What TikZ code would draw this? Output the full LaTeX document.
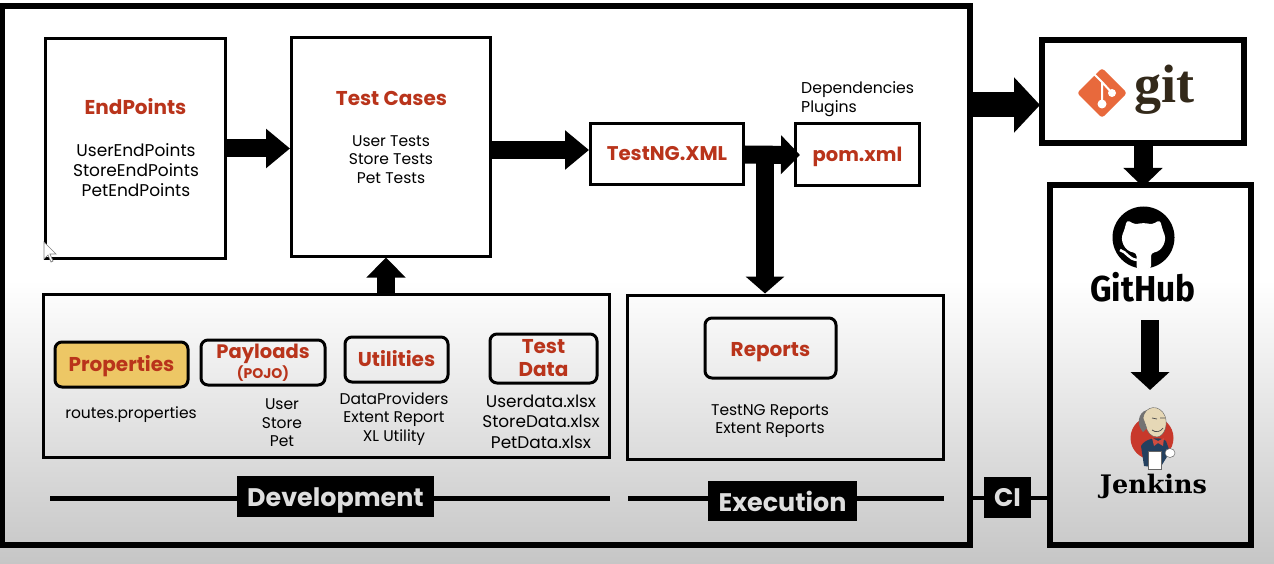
\documentclass[tikz,border=0pt]{standalone}
\usepackage{fontspec}
\setmainfont{Poppins}
\newfontfamily\gitfont{Liberation Serif}
\newfontfamily\jenkinsfont{DejaVu Serif}
\newfontfamily\hubfont{Fira Sans}
\usetikzlibrary{arrows.meta,positioning}
\definecolor{titlered}{HTML}{B9341B}
\definecolor{propgold}{HTML}{EDC765}
\definecolor{gitorange}{HTML}{E8693C}
\definecolor{gitbrown}{HTML}{33291A}
\definecolor{bandtext}{HTML}{DEDEDE}
\definecolor{bottomgray}{HTML}{C6C6C6}
\definecolor{jenkinsred}{HTML}{C8382B}
\definecolor{jenkinsskin}{HTML}{E6D8B6}
\definecolor{jenkinssuit}{HTML}{23405F}
\tikzset{
    bigbox/.style={draw,line width=3pt,minimum width=#1,inner sep=0pt},
    inbox/.style={draw,line width=3pt,rounded corners=7pt,minimum width=#1,align=center,inner sep=0pt,text=titlered,font=\fontsize{20}{23}\selectfont\bfseries},
    heading/.style={text=titlered,font=\fontsize{20}{23}\selectfont\bfseries,inner sep=0pt},
    subtext/.style={align=center,inner sep=0pt,font=\fontsize{15.5}{18.5}\selectfont},
    band/.style={fill=black,text=bandtext,inner sep=0pt,font=\fontsize{25.4}{30}\selectfont\bfseries},
    fatarrow/.style={line width=18pt,-{Triangle[length=#1,width=38pt]}},
    fatarrow/.default=20pt,
}
\begin{document}
\begin{tikzpicture}[x=1pt,y=-1pt]
    \useasboundingbox (0,0) rectangle (1274,564);
    \fill[white] (0,0) rectangle (1274,281);
    \shade[top color=white,bottom color=bottomgray] (0,280) rectangle (1274,564);
    \draw[line width=6pt] (2,6) rectangle (970,545);

    \node[bigbox=180pt,minimum height=219pt] (endpoints) at (135.5,148.5) {};
    \node[heading] (endpointstitle) at (135.5,107) {EndPoints};
    \node[subtext,font=\fontsize{17}{20}\selectfont] (endpointslist) at (136,170) {UserEndPoints\\StoreEndPoints\\PetEndPoints};

    \node[bigbox=199pt,minimum height=218pt] (testcases) at (391,147) {};
    \node[heading] (testcasestitle) at (391.5,98.5) {Test Cases};
    \node[subtext] (testcaseslist) at (391,159.5) {User Tests\\Store Tests\\Pet Tests};

    \node[bigbox=153pt,minimum height=61pt,text=titlered,font=\fontsize{19.8}{23}\selectfont\bfseries,text height=14.5pt,text depth=2pt] (testng) at (667,154.5) {TestNG.XML};
    \node[bigbox=124pt,minimum height=62pt,text=titlered,font=\fontsize{19.5}{23}\selectfont\bfseries,text height=17pt,text depth=4.5pt] (pom) at (857.5,155) {pom.xml};
    \node[subtext,align=left,anchor=west,font=\fontsize{15.7}{18.5}\selectfont] (pomnote) at (801,99) {Dependencies\\Plugins};

    \node[bigbox=566pt,minimum height=163pt] (devarea) at (326.5,375.5) {};
    \node[inbox=133pt,minimum height=45pt,fill=propgold,text height=19pt,text depth=4.5pt] (properties) at (121.5,364.5) {Properties};
    \node[subtext] (propertieslist) at (131,415) {routes.properties};
    \node[inbox=124pt,minimum height=45pt,font=\fontsize{19.5}{17}\selectfont\bfseries] (payloads) at (263,362.5) {Payloads\\[1pt]{\fontsize{14}{14}\selectfont (POJO)}};
    \node[subtext] (payloadslist) at (282,423) {User\\Store\\Pet};
    \node[inbox=103pt,minimum height=45pt,text height=15pt,text depth=2pt] (utilities) at (396.5,359.5) {Utilities};
    \node[subtext] (utilitieslist) at (394,419) {DataProviders\\Extent Report\\XL Utility};
    \node[inbox=107pt,minimum height=49pt] (testdata) at (543.5,358.5) {Test\\Data};
    \node[subtext,font=\fontsize{16.9}{20.5}\selectfont] (testdatalist) at (541,421.5) {Userdata.xlsx\\StoreData.xlsx\\PetData.xlsx};

    \node[bigbox=316pt,minimum height=164pt] (execarea) at (785.5,377) {};
    \node[inbox=131pt,minimum height=60pt,text height=16pt,text depth=0pt] (reports) at (770.5,348) {Reports};
    \node[subtext] (reportslist) at (770,421) {TestNG Reports\\Extent Reports};

    \coordinate (devleft) at (50,498);
    \coordinate (devright) at (610,498);
    \coordinate (execleft) at (628,498);
    \coordinate (execright) at (944,498);
    \coordinate (frameright) at (972,498);
    \coordinate (hubleft) at (1048,498);
    \draw[line width=5pt] (devleft) -- (devright);
    \draw[line width=5pt] (execleft) -- (execright);
    \draw[line width=4pt] (frameright) -- (hubleft);
    \node[band,minimum width=197pt,minimum height=41pt,text height=24pt,text depth=5pt] (development) at (335.5,496.5) {Development};
    \node[band,minimum width=149pt,minimum height=40pt] (execution) at (782.5,501) {Execution};
    \node[band,minimum width=47pt,minimum height=41pt] (ci) at (1007.5,497.5) {CI};

    \node[draw,line width=6pt,minimum width=202pt,minimum height=103pt,inner sep=0pt] (gitbox) at (1143,91.5) {};
    \node[draw,line width=6pt,minimum width=201pt,minimum height=360pt,inner sep=0pt] (hubbox) at (1150.5,365) {};

    \fill[gitorange,rounded corners=3pt] (1102,68) -- (1127,93) -- (1102,118) -- (1077,93) -- cycle;
    \draw[white,line width=2pt] (1094,74) -- (1102,82) -- (1102,104) (1102,82) -- (1112,93);
    \fill[white] (1102,104) circle (4.5pt) (1112,93) circle (4pt);
    \node[text=gitbrown,inner sep=0pt,font=\gitfont\fontsize{54}{54}\selectfont\bfseries] (gitlabel) at (1164,90) {git};

    \fill[black] (1143.5,237.5) circle (31pt);
    \fill[white,rounded corners=3pt] (1127,220) -- (1135,224.5) .. controls (1141,223) and (1146,223) .. (1152,224.5) -- (1160,220) -- (1163,231)
        .. controls (1167,240) and (1163,251) .. (1151,253) -- (1151,269) -- (1136.5,269) -- (1136.5,253)
        .. controls (1124,251) and (1120,240) .. (1124,231) -- cycle;
    \draw[white,line width=2.5pt] (1120,250) .. controls (1127,252) and (1128,259) .. (1137,260);
    \node[inner sep=0pt,font=\hubfont\fontsize{36}{36}\selectfont\bfseries] (hublabel) at (1143,287) {\scalebox{.93}[1]{GitHub}};

    \fill[jenkinsred] (1152,438) circle (21.5pt);
    \fill[jenkinssuit] (1144,466) -- (1141,446) .. controls (1145,438) and (1160,436) .. (1166,441) -- (1170,452) -- (1160,468) -- cycle;
    \fill[jenkinsred!90!white] (1152,438) -- (1158,441) -- (1164,438) -- (1163,446) -- (1158,443) -- (1154,446) -- cycle;
    \fill[black!55] (1147,410) .. controls (1138,412) and (1136,425) .. (1143,432) -- (1150,425) -- cycle;
    \fill[jenkinsskin,draw=black!60,line width=.4pt] (1143,418) .. controls (1145,405) and (1160,404) .. (1165,416)
        .. controls (1168,424) and (1165,436) .. (1157,437) .. controls (1151,437) and (1147,432) .. (1146,426) -- cycle;
    \draw[black!70,line width=.7pt] (1152,430) .. controls (1156,433) and (1160,432) .. (1163,428);
    \draw[black!70,line width=.7pt] (1152,418) -- (1157,419) (1160,418) -- (1165,418);
    \fill[white,draw=black!60,line width=.5pt] (1148,451) rectangle (1161,469);
    \fill[white,draw=black!60,line width=.5pt] (1170,453) ellipse (5pt and 4.5pt);
    \node[inner sep=0pt,font=\jenkinsfont\fontsize{25.5}{26}\selectfont\bfseries] (jenkinslabel) at (1153.5,486) {Jenkins};

    \fill[white,draw=black!50,line width=.7pt] (44,242) -- (44,259) -- (48,255) -- (51,262) -- (53,261) -- (50,254) -- (56,254) -- cycle;

    \draw[fatarrow=24pt] (endpoints.east) -- (endpoints.east -| testcases.west);
    \draw[fatarrow=24pt] (testcases.east |- 0,150) -- (testng.west |- 0,150);
    \draw[fatarrow=19pt] (testng.east) -- ([xshift=6pt]pom.west);
    \coordinate (split) at (765,154);
    \draw[fatarrow=17pt] (split) -- (split |- execarea.north);
    \coordinate (devtop) at (386,294);
    \draw[fatarrow=20pt] (devtop) -- (devtop |- testcases.south);
    \draw[line width=25pt,-{Triangle[length=26pt,width=54pt]}] (frameright |- 0,105) -- ([xshift=1pt]gitbox.west |- 0,105);
    \draw[line width=19pt,-{Triangle[length=19pt,width=38pt]}] (gitbox.south) -- ([yshift=-5pt]hubbox.north -| gitbox.south);
    \coordinate (hubarrow) at (1150,320);
    \coordinate (jenkinstop) at (1150,390);
    \draw[fatarrow=18pt] (hubarrow) -- (jenkinstop);
\end{tikzpicture}
\end{document}
